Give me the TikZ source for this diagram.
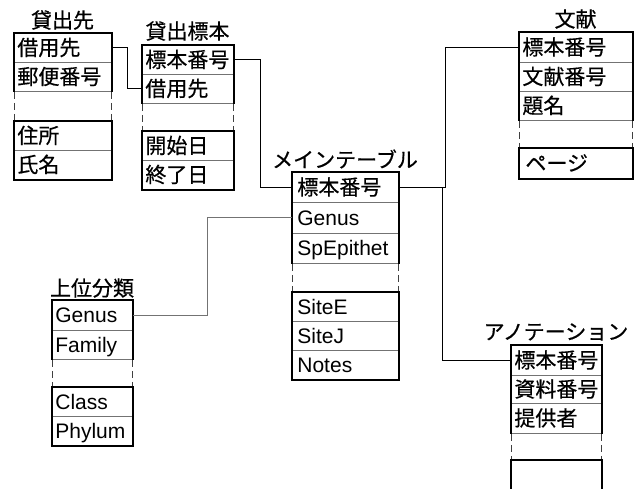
\documentclass[tikz,border=0pt]{standalone}
\usepackage{fontspec}
\setmainfont{Liberation Sans}
\newfontfamily\jp[FakeBold=0.5]{Noto Sans CJK JP}
\definecolor{rowgray}{gray}{0.45}
\tikzset{
  row/.style={draw=rowgray, line width=0.8pt, anchor=north west, inner xsep=3pt, inner ysep=0pt,
    align=left, text height=17pt, text depth=2pt, font=\fontsize{21}{24}\selectfont},
  ttl/.style={font=\fontsize{21}{24}\selectfont\jp, inner sep=0pt},
  outline/.style={line width=1.9pt, line join=miter},
  gapline/.style={line width=0.8pt, draw=black!75, dash pattern=on 7pt off 4pt},
  link/.style={line width=0.9pt},
  graylink/.style={line width=0.9pt, draw=black!55}
}
% \trow[opts]{name}{x}{ytop}{textwidth}{height}{text}
\newcommand\trow[7][]{\node[row,#1,text width=#5pt,minimum height=#6pt] (#2) at (#3,#4) {#7};}
\newcommand\tblocks[4]{%
  \draw[outline] (#2.south west) |- (#1.north east) -- (#2.south east);
  \draw[gapline] (#2.south west) -- (#3.north west) (#2.south east) -- (#3.north east);
  \draw[outline] (#3.north west) rectangle (#4.south east);}
\begin{document}
\begin{tikzpicture}[x=1pt,y=-1pt]
\useasboundingbox (0,0) rectangle (637,488);

% 貸出先
\node[ttl] (tLs) at (62.5,20) {貸出先};
\trow{lsA}{14}{33}{91}{29}{\jp 借用先}
\trow{lsB}{14}{62}{91}{29}{\jp 郵便番号}
\trow{lsC}{14}{121}{91}{29}{\jp 住所}
\trow{lsD}{14}{150}{91}{29}{\jp 氏名}
\tblocks{lsA}{lsB}{lsC}{lsD}

% 貸出標本
\node[ttl] (tLb) at (187.5,31) {貸出標本};
\trow{lbA}{142}{45}{85}{29}{\jp 標本番号}
\trow{lbB}{142}{74}{85}{29}{\jp 借用先}
\trow{lbC}{142}{131}{85}{29}{\jp 開始日}
\trow{lbD}{142}{160}{85}{29}{\jp 終了日}
\tblocks{lbA}{lbB}{lbC}{lbD}

% メインテーブル
\node[ttl] (tM) at (345,159) {メインテーブル};
\trow[inner xsep=5pt]{mA}{292}{172}{96}{30}{\jp 標本番号}
\trow[inner xsep=5pt]{mB}{292}{202}{96}{31}{Genus}
\trow[inner xsep=5pt]{mC}{292}{233}{96}{30}{SpEpithet}
\trow[inner xsep=5pt]{mD}{292}{292}{96}{29}{SiteE}
\trow[inner xsep=5pt]{mE}{292}{321}{96}{29}{SiteJ}
\trow[inner xsep=5pt]{mF}{292}{350}{96}{29}{Notes}
\tblocks{mA}{mC}{mD}{mF}

% 文献
\node[ttl] (tB) at (575.5,19) {文献};
\trow{bA}{519}{32}{107}{30}{\jp 標本番号}
\trow{bB}{519}{62}{107}{29}{\jp 文献番号}
\trow{bC}{519}{91}{107}{29}{\jp 題名}
\trow[inner xsep=6pt]{bD}{519}{148}{101}{30}{\jp ページ}
\tblocks{bA}{bC}{bD}{bD}

% 上位分類
\node[ttl] (tH) at (92,288) {上位分類};
\trow{hA}{52}{300}{74}{30}{Genus}
\trow{hB}{52}{330}{74}{29}{Family}
\trow{hC}{52}{387}{74}{29}{Class}
\trow{hD}{52}{416}{74}{29}{Phylum}
\tblocks{hA}{hB}{hC}{hD}

% アノテーション
\node[ttl] (tA) at (556,332) {アノテーション};
\trow{anA}{511}{345}{84}{30}{\jp 標本番号}
\trow{anB}{511}{375}{84}{28}{\jp 資料番号}
\trow{anC}{511}{403}{84}{30}{\jp 提供者}
\trow[draw=none]{anD}{511}{460}{84}{28}{}
\draw[outline] (anC.south west) |- (anA.north east) -- (anC.south east);
\draw[gapline] (anC.south west) -- (anD.north west) (anC.south east) -- (anD.north east);
\draw[outline] (anD.south west) |- (anD.north east) -- (anD.south east);

% connectors
\draw[link] (lsA.east) -- ++(16,0) |- (lbB.west);
\draw[link] (lbA.east) -- ++(27,0) |- (mA.west);
\draw[link] (mA.east) -- ++(47,0) |- (bA.west);
\draw[link] (mA.east) -- ++(44,0) |- (anA.west);
\draw[graylink] (hA.east) -- ++(75,0) |- (mB.west);
\end{tikzpicture}
\end{document}
